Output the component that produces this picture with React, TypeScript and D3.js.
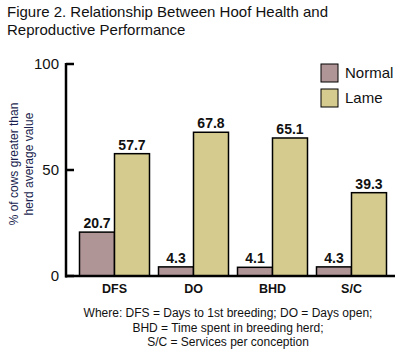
import React from "react";
import * as d3 from "d3";

const categories = ["DFS", "DO", "BHD", "S/C"];
const seriesNames = ["Normal", "Lame"];
const normalValues = [20.7, 4.3, 4.1, 4.3];
const lameValues = [57.7, 67.8, 65.1, 39.3];
const yTicks = [0, 50, 100];
const colors = ["#b09597", "#d5cb8e"];
const titleLines = ["Figure 2. Relationship Between Hoof Health and", "Reproductive Performance"];
const yLabelLines = ["% of cows greater than", "herd average value"];
const noteLines = [
  "Where: DFS = Days to 1st breeding; DO = Days open;",
  "BHD = Time spent in breeding herd;",
  "S/C = Services per conception",
];

export default function App() {
  const W = 409, H = 358;
  const font = "Arial, 'Liberation Sans', Helvetica, sans-serif";
  const x0 = d3.scaleBand<string>().domain(categories).range([75, 391]).paddingInner(0.114).paddingOuter(0.057);
  const x1 = d3.scaleBand<string>().domain(seriesNames).range([0, x0.bandwidth()]);
  const y = d3.scaleLinear().domain([0, 100]).range([276, 64]);
  const series = [normalValues, lameValues];

  return (
    <svg width={W} height={H} style={{ position: "absolute", left: 0, top: 0, background: "#fff" }} fontFamily={font}>
      {titleLines.map((t, i) => (
        <text key={i} x={7} y={17 + i * 18} fontSize={15} fill="#111">{t}</text>
      ))}
      <g transform="translate(18,164) rotate(-90)" fill="#1a1f4f" fontSize={12} textAnchor="middle">
        {yLabelLines.map((t, i) => (
          <text key={i} x={0} y={i * 15}>{t}</text>
        ))}
      </g>
      {yTicks.map((t) => (
        <g key={t}>
          <line x1={66} x2={74} y1={y(t)} y2={y(t)} stroke="#000" strokeWidth={2.5} />
          <text x={59} y={y(t) + 5} textAnchor="end" fontSize={15} fill="#111">{t}</text>
        </g>
      ))}
      {categories.map((c, ci) => (
        <g key={c}>
          {series.map((vals, si) => {
            const bx = (x0(c) ?? 0) + (x1(seriesNames[si]) ?? 0);
            const bw = x1.bandwidth();
            return (
              <g key={si}>
                <rect x={bx} y={y(vals[ci])} width={bw} height={y(0) - y(vals[ci])} fill={colors[si]} stroke="#000" strokeWidth={1.5} />
                <text x={bx + bw / 2} y={y(vals[ci]) - 4} textAnchor="middle" fontSize={14} fontWeight="bold" fill="#111">{vals[ci].toFixed(1)}</text>
              </g>
            );
          })}
          <text x={(x0(c) ?? 0) + x0.bandwidth() / 2} y={293} textAnchor="middle" fontSize={12.5} fontWeight="bold" fill="#111">{c}</text>
        </g>
      ))}
      <line x1={66} x2={66} y1={y(100) - 1} y2={y(0) + 1.5} stroke="#000" strokeWidth={2.5} />
      <line x1={65} x2={395} y1={y(0)} y2={y(0)} stroke="#000" strokeWidth={2.5} />
      {seriesNames.map((s, i) => (
        <g key={s}>
          <rect x={321} y={64 + i * 25} width={17} height={18} fill={colors[i]} stroke="#000" strokeWidth={1} />
          <text x={345} y={78 + i * 25} fontSize={15} fill="#111">{s}</text>
        </g>
      ))}
      {noteLines.map((t, i) => (
        <text key={i} x={228} y={317 + i * 14.5} textAnchor="middle" fontSize={12} fill="#111">{t}</text>
      ))}
    </svg>
  );
}
